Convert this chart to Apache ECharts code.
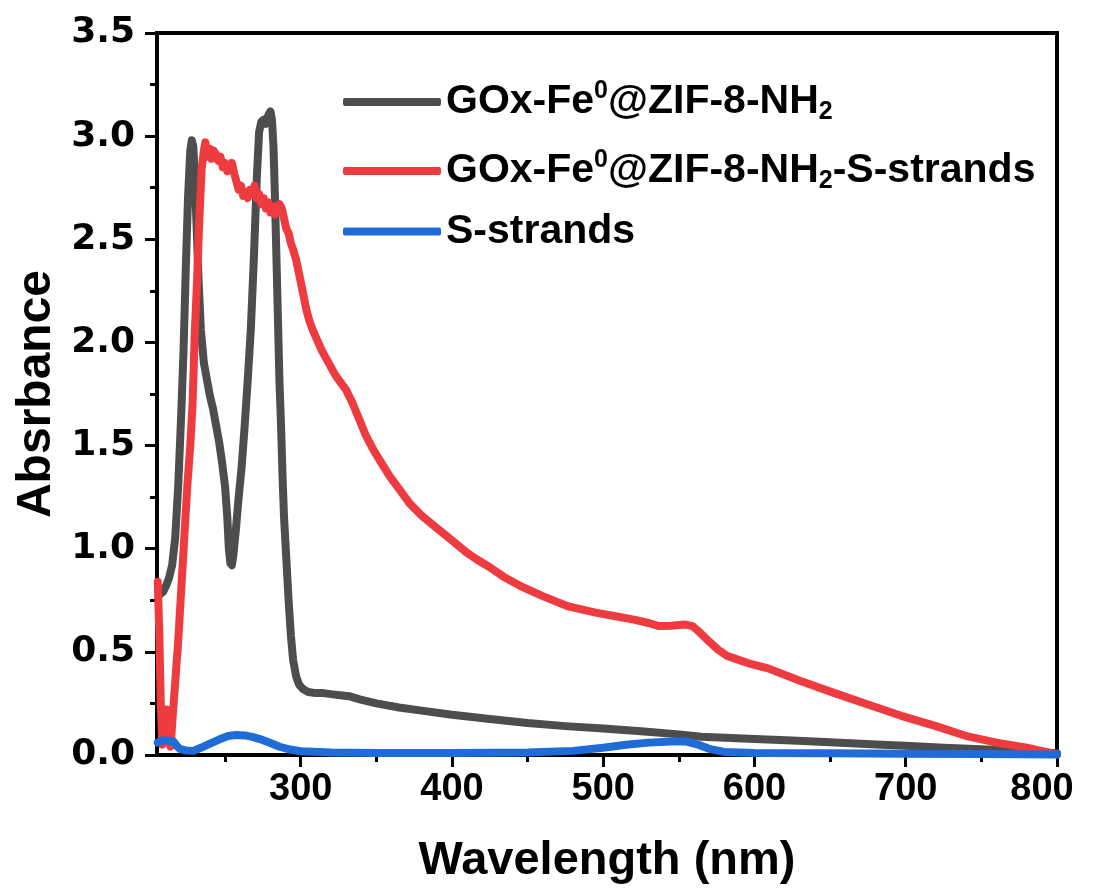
<!DOCTYPE html>
<html>
<head>
<meta charset="utf-8">
<script src="https://cdn.jsdelivr.net/npm/echarts@6/dist/echarts.min.js"></script>
<style>html,body{margin:0;padding:0;background:#fff}#c{width:1100px;height:890px}</style>
</head>
<body>
<div id="c"></div>
<script>
// ---- data ----
const seriesNames = ['GOx-Fe0@ZIF-8-NH2', 'GOx-Fe0@ZIF-8-NH2-S-strands', 'S-strands'];
const xMajorTicks = [300, 400, 500, 600, 700, 800];
const xMinorTicks = [250, 350, 450, 550, 650, 750];

const goxWl = [207,209,211,213,215,217,219,221,222.5,224,225.5,227,228,229,230,231,232.5,234,236,238,240,242,244,246,248,250,251.5,252.5,253.5,254.5,255.5,257,259,261,263,265,267,269,271,272.5,274,275.5,277,278.5,280,281,282,283,284,285,286,287,288,289,290.5,292,293.5,295,297,299,301.5,305,310,315,320,326,332,339,350,365,380,400,425,450,475,500,525,550,565,600,625,650,684,700,725,750,776,800];
const goxAbs = [0.78,0.79,0.82,0.86,0.92,1.05,1.3,1.65,1.95,2.35,2.7,2.93,2.98,2.95,2.8,2.6,2.3,2.06,1.9,1.82,1.74,1.68,1.6,1.52,1.42,1.3,1.15,1.0,0.93,0.92,0.97,1.08,1.25,1.4,1.6,1.82,2.06,2.4,2.8,3.02,3.07,3.08,3.06,3.1,3.12,3.08,2.95,2.7,2.4,2.1,1.8,1.6,1.35,1.15,0.95,0.75,0.58,0.46,0.38,0.34,0.32,0.305,0.3,0.3,0.295,0.29,0.285,0.27,0.25,0.23,0.215,0.195,0.175,0.155,0.14,0.128,0.115,0.1,0.088,0.078,0.07,0.062,0.05,0.045,0.035,0.028,0.02,0.008];

const sWl = [205.5,206.5,207.5,208.5,210,211.5,212.5,214,215.5,217,219,221,223,225,227,228.5,230,231.5,233,234.5,236,237,238.5,240,241,242.5,244,245.5,247,248.5,250,251.5,253,254.5,256,257.5,259,260.5,262,263.5,265,266.5,268,269.5,271,272.5,274,275.5,277,278.5,280,281.5,283,284.5,286,287.5,289,290.5,292,293.5,295,297,299,301.5,304,306,308,311,314,317,320,323,326,330,334,338,343,348,353,359,365,372,380,390,400,410,416,425,435,445,460,477,495,510,521,530,537,545,554,559,563,570,576,582,590,598,609,630,653,675,697,720,741,760,780,800];
const sAbs = [0.84,0.6,0.25,0.05,0.12,0.22,0.08,0.04,0.2,0.35,0.55,0.8,1.05,1.3,1.5,1.7,2.05,2.3,2.6,2.84,2.93,2.97,2.9,2.94,2.89,2.93,2.91,2.88,2.9,2.85,2.87,2.83,2.84,2.87,2.82,2.78,2.74,2.76,2.71,2.73,2.7,2.74,2.72,2.76,2.7,2.72,2.67,2.7,2.65,2.68,2.63,2.66,2.62,2.66,2.67,2.65,2.6,2.55,2.53,2.48,2.45,2.4,2.33,2.24,2.15,2.1,2.06,2.01,1.96,1.92,1.88,1.84,1.81,1.77,1.71,1.64,1.55,1.48,1.42,1.35,1.29,1.22,1.16,1.1,1.04,0.98,0.95,0.91,0.86,0.82,0.77,0.72,0.69,0.67,0.655,0.64,0.625,0.627,0.633,0.625,0.6,0.55,0.51,0.48,0.46,0.44,0.42,0.36,0.3,0.245,0.19,0.14,0.09,0.06,0.035,0.003];

const blueWl = [205.5,208,212,216,218,220,224,229,234,240,246,252,257.5,263,268,273,280,286,292,300,320,350,400,450,480,500,515,530,545,555,562,570,580,600,650,700,750,800];
const blueAbs = [0.06,0.07,0.07,0.065,0.045,0.03,0.022,0.02,0.035,0.055,0.075,0.092,0.097,0.095,0.088,0.077,0.058,0.04,0.028,0.018,0.012,0.01,0.01,0.012,0.02,0.035,0.05,0.06,0.065,0.065,0.052,0.03,0.015,0.01,0.008,0.006,0.005,0.003];

const zip = (a, b) => a.map((v, i) => [v, b[i]]);

const legendRich = {
  'GOx-Fe0@ZIF-8-NH2': '{b|GOx-Fe}{sup|0}{b|@ZIF-8-NH}{sub|2}',
  'GOx-Fe0@ZIF-8-NH2-S-strands': '{b|GOx-Fe}{sup|0}{b|@ZIF-8-NH}{sub|2}{b|-S-strands}',
  'S-strands': '{b|S-strands}'
};

const chart = echarts.init(document.getElementById('c'), null, {renderer: 'canvas'});
const mainFont = 'Liberation Sans, Arial, sans-serif';
const legendText = {
  rich: {
    b: {fontFamily: mainFont, fontWeight: 'bold', fontSize: 41, color: '#000', lineHeight: 46},
    sup: {fontFamily: mainFont, fontWeight: 'bold', fontSize: 25, color: '#000', lineHeight: 25, verticalAlign: 'top', padding: [0, 0, 22, 0]},
    sub: {fontFamily: mainFont, fontWeight: 'bold', fontSize: 25, color: '#000', lineHeight: 25, verticalAlign: 'bottom', padding: [16, 0, 0, 0]}
  }
};
chart.setOption({
  animation: false,
  backgroundColor: '#fff',
  grid: {left: 157, right: 43, top: 33, bottom: 134, show: true, borderColor: '#000', borderWidth: 4, backgroundColor: 'transparent'},
  legend: [{
    orient: 'vertical', left: 343, top: 79, padding: 0, itemWidth: 98, itemHeight: 8, itemGap: 22,
    icon: 'roundRect',
    data: seriesNames.slice(0, 2),
    formatter: n => legendRich[n],
    textStyle: legendText
  }, {
    orient: 'vertical', left: 343, top: 211, padding: 0, itemWidth: 98, itemHeight: 8,
    icon: 'roundRect',
    data: seriesNames.slice(2),
    formatter: n => legendRich[n],
    textStyle: legendText
  }],
  xAxis: [{
    type: 'value', min: 205, max: 800, position: 'bottom',
    name: 'Wavelength (nm)', nameLocation: 'middle', nameGap: 83,
    nameTextStyle: {fontFamily: mainFont, fontWeight: 'bold', fontSize: 47, color: '#000'},
    axisLine: {show: true, lineStyle: {color: '#000', width: 4}},
    axisTick: {show: true, inside: false, length: 12, lineStyle: {color: '#000', width: 3}, customValues: xMajorTicks},
    axisLabel: {
      show: true, customValues: xMajorTicks, margin: 16, fontFamily: mainFont, fontWeight: 'bold', fontSize: 38, color: '#000',
      formatter: v => v === 800 ? '{e|800}' : String(v),
      rich: {e: {fontFamily: mainFont, fontWeight: 'bold', fontSize: 38, color: '#000', padding: [0, 30, 0, 0]}}
    },
    splitLine: {show: false}
  }, {
    type: 'value', min: 205, max: 800, position: 'bottom', gridIndex: 0,
    axisLine: {show: false},
    axisTick: {show: true, inside: false, length: 7, lineStyle: {color: '#000', width: 3}, customValues: xMinorTicks},
    axisLabel: {show: false},
    splitLine: {show: false}
  }],
  yAxis: {
    type: 'value', min: 0, max: 3.5, interval: 0.5,
    name: 'Absrbance', nameLocation: 'middle', nameGap: 93, nameRotate: 90,
    nameTextStyle: {fontFamily: mainFont, fontWeight: 'bold', fontSize: 48, color: '#000'},
    axisLine: {show: true, lineStyle: {color: '#000', width: 4}},
    axisTick: {show: true, inside: false, length: 12, lineStyle: {color: '#000', width: 3}},
    minorTick: {show: true, splitNumber: 2, length: 7, lineStyle: {color: '#000', width: 3}},
    axisLabel: {margin: 22, fontFamily: 'DejaVu Sans', fontWeight: 'bold', fontSize: 36, color: '#000', formatter: v => v.toFixed(1)},
    splitLine: {show: false}
  },
  series: [
    {name: seriesNames[0], type: 'line', showSymbol: false, data: zip(goxWl, goxAbs), lineStyle: {color: '#4d4d4d', width: 8, cap: 'round', join: 'round'}, itemStyle: {color: '#4d4d4d'}},
    {name: seriesNames[1], type: 'line', showSymbol: false, data: zip(sWl, sAbs), lineStyle: {color: '#ee3b3f', width: 8, cap: 'round', join: 'round'}, itemStyle: {color: '#ee3b3f'}},
    {name: seriesNames[2], type: 'line', showSymbol: false, data: zip(blueWl, blueAbs), lineStyle: {color: '#1f6bd8', width: 8, cap: 'round', join: 'round'}, itemStyle: {color: '#1f6bd8'}}
  ]
});
</script>
</body>
</html>
